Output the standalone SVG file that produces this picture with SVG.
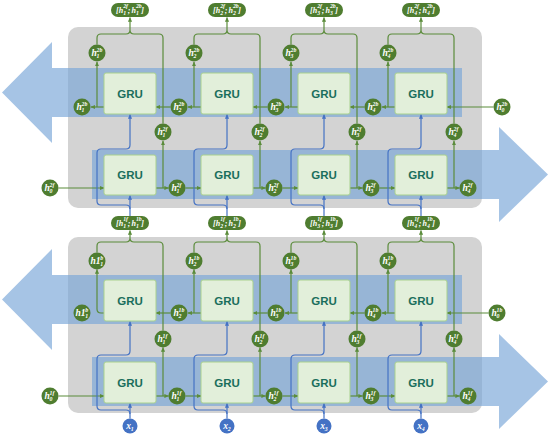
<svg xmlns="http://www.w3.org/2000/svg" width="554" height="434" viewBox="0 0 554 434">
<defs>
<marker id="ag" viewBox="0 0 6 6" refX="5.5" refY="3" markerWidth="4.5" markerHeight="4.5" markerUnits="userSpaceOnUse" orient="auto"><path d="M0,0.3L6,3L0,5.7z" fill="#5b8c3b"/></marker>
<marker id="ab" viewBox="0 0 6 6" refX="5.5" refY="3" markerWidth="4.5" markerHeight="4.5" markerUnits="userSpaceOnUse" orient="auto"><path d="M0,0.3L6,3L0,5.7z" fill="#4472c4"/></marker>
<style>
.bg{fill:#d3d3d3}
.ar{fill:#78a5d8;fill-opacity:.66}
.gru{fill:#e2efda;stroke:#a9d18e;stroke-width:1}
.gt{font-family:"Liberation Sans",Arial,sans-serif;font-weight:bold;font-size:11.5px;fill:#1a6e5c;text-anchor:middle}
.n{fill:#4f7d30}
.xn{fill:#4472c4}
.t{font-family:"Liberation Serif","Times New Roman",serif;font-style:italic;font-weight:bold;font-size:9.5px;fill:#fff}
.p{font-size:8px}
.s{font-size:5.8px}
.gl{fill:none;stroke:#5b8c3b;stroke-width:1.2}
.gl.a{marker-end:url(#ag)}
.bl{fill:none;stroke:#4472c4;stroke-width:1.2}
.bl.a{marker-end:url(#ab)}
</style>
</defs>
<g id="backgrounds">
<rect class="bg" x="68" y="27" width="414" height="181" rx="10"/>
<rect class="bg" x="68" y="237" width="414" height="176" rx="10"/>
<polygon class="ar" points="2,92.5 52,42 52,68 462,68 462,117 52,117 52,143"/>
<polygon class="ar" points="92,150 499,150 499,127 548,174.5 499,222 499,199 92,199"/>
<polygon class="ar" points="2,299.5 52,249 52,275 462,275 462,324 52,324 52,350"/>
<polygon class="ar" points="92,357 499,357 499,334 548,381.5 499,429 499,406 92,406"/>
</g>
<g id="connectors">
<path class="gl a" d="M104,107H91"/><path class="gl a" d="M97,107V62"/><path class="gl a" d="M170.5,107H156"/>
<path class="gl a" d="M201,107H188"/><path class="gl a" d="M194,107V62"/><path class="gl a" d="M267.5,107H253"/>
<path class="gl a" d="M298,107H285"/><path class="gl a" d="M291,107V62"/><path class="gl a" d="M364.5,107H350"/>
<path class="gl a" d="M395,107H382"/><path class="gl a" d="M388,107V62"/><path class="gl a" d="M493.5,107H447"/>
<path class="gl" d="M97,44.5V38Q97,34 101,34H126Q130,34 130,30Q130,34 134,34H159Q163,34 163,38V123.5"/><path class="gl a" d="M130,30V17.5"/>
<path class="gl" d="M194,44.5V38Q194,34 198,34H223Q227,34 227,30Q227,34 231,34H256Q260,34 260,38V123.5"/><path class="gl a" d="M227,30V17.5"/>
<path class="gl" d="M291,44.5V38Q291,34 295,34H320Q324,34 324,30Q324,34 328,34H353Q357,34 357,38V123.5"/><path class="gl a" d="M324,30V17.5"/>
<path class="gl" d="M388,44.5V38Q388,34 392,34H417Q421,34 421,30Q421,34 425,34H450Q454,34 454,38V123.5"/><path class="gl a" d="M421,30V17.5"/>
<path class="gl a" d="M58.5,188H104"/>
<path class="gl a" d="M156,188H168.5"/><path class="gl a" d="M163,188V141"/><path class="gl a" d="M185.5,188H201"/>
<path class="gl a" d="M253,188H265.5"/><path class="gl a" d="M260,188V141"/><path class="gl a" d="M282.5,188H298"/>
<path class="gl a" d="M350,188H362.5"/><path class="gl a" d="M357,188V141"/><path class="gl a" d="M379.5,188H395"/>
<path class="gl a" d="M447,188H459.5"/><path class="gl a" d="M454,188V141"/>
<path class="bl a" d="M130,216V195.5"/><path class="bl a" d="M130,209Q130,205 126,205H101Q97,205 97,201V153Q97,149 101,149H126Q130,149 130,145V114.5"/>
<path class="bl a" d="M227,216V195.5"/><path class="bl a" d="M227,209Q227,205 223,205H198Q194,205 194,201V153Q194,149 198,149H223Q227,149 227,145V114.5"/>
<path class="bl a" d="M324,216V195.5"/><path class="bl a" d="M324,209Q324,205 320,205H295Q291,205 291,201V153Q291,149 295,149H320Q324,149 324,145V114.5"/>
<path class="bl a" d="M421,216V195.5"/><path class="bl a" d="M421,209Q421,205 417,205H392Q388,205 388,201V153Q388,149 392,149H417Q421,149 421,145V114.5"/>
<path class="gl a" d="M104,313H101Q97,313 97,309V269.5"/><path class="gl a" d="M170.5,313H156"/>
<path class="gl a" d="M201,313H188"/><path class="gl a" d="M194,313V269.5"/><path class="gl a" d="M267.5,313H253"/>
<path class="gl a" d="M298,313H285"/><path class="gl a" d="M291,313V269.5"/><path class="gl a" d="M364.5,313H350"/>
<path class="gl a" d="M395,313H382"/><path class="gl a" d="M388,313V269.5"/><path class="gl a" d="M488.5,313H447"/>
<path class="gl" d="M97,252.5V246Q97,242 101,242H126Q130,242 130,238Q130,242 134,242H159Q163,242 163,246V330.5"/><path class="gl a" d="M130,238V230.5"/>
<path class="gl" d="M194,252.5V246Q194,242 198,242H223Q227,242 227,238Q227,242 231,242H256Q260,242 260,246V330.5"/><path class="gl a" d="M227,238V230.5"/>
<path class="gl" d="M291,252.5V246Q291,242 295,242H320Q324,242 324,238Q324,242 328,242H353Q357,242 357,246V330.5"/><path class="gl a" d="M324,238V230.5"/>
<path class="gl" d="M388,252.5V246Q388,242 392,242H417Q421,242 421,238Q421,242 425,242H450Q454,242 454,246V330.5"/><path class="gl a" d="M421,238V230.5"/>
<path class="gl a" d="M58.5,396H104"/>
<path class="gl a" d="M156,396H168.5"/><path class="gl a" d="M163,396V347.5"/><path class="gl a" d="M185.5,396H201"/>
<path class="gl a" d="M253,396H265.5"/><path class="gl a" d="M260,396V347.5"/><path class="gl a" d="M282.5,396H298"/>
<path class="gl a" d="M350,396H362.5"/><path class="gl a" d="M357,396V347.5"/><path class="gl a" d="M379.5,396H395"/>
<path class="gl a" d="M447,396H459.5"/><path class="gl a" d="M454,396V347.5"/>
<path class="bl a" d="M130,418.5V403.5"/><path class="bl a" d="M130,414Q130,410 126,410H101Q97,410 97,406V359Q97,355 101,355H126Q130,355 130,351V321.5"/>
<path class="bl a" d="M227,418.5V403.5"/><path class="bl a" d="M227,414Q227,410 223,410H198Q194,410 194,406V359Q194,355 198,355H223Q227,355 227,351V321.5"/>
<path class="bl a" d="M324,418.5V403.5"/><path class="bl a" d="M324,414Q324,410 320,410H295Q291,410 291,406V359Q291,355 295,355H320Q324,355 324,351V321.5"/>
<path class="bl a" d="M421,418.5V403.5"/><path class="bl a" d="M421,414Q421,410 417,410H392Q388,410 388,406V359Q388,355 392,355H417Q421,355 421,351V321.5"/>
</g>
<g id="gru-2b-1"><rect class="gru" x="104" y="73" width="52" height="41" rx="2"/><text class="gt" x="130" y="97.5">GRU</text></g>
<g id="gru-2b-2"><rect class="gru" x="201" y="73" width="52" height="41" rx="2"/><text class="gt" x="227" y="97.5">GRU</text></g>
<g id="gru-2b-3"><rect class="gru" x="298" y="73" width="52" height="41" rx="2"/><text class="gt" x="324" y="97.5">GRU</text></g>
<g id="gru-2b-4"><rect class="gru" x="395" y="73" width="52" height="41" rx="2"/><text class="gt" x="421" y="97.5">GRU</text></g>
<g id="gru-2f-1"><rect class="gru" x="104" y="155" width="52" height="40" rx="2"/><text class="gt" x="130" y="179">GRU</text></g>
<g id="gru-2f-2"><rect class="gru" x="201" y="155" width="52" height="40" rx="2"/><text class="gt" x="227" y="179">GRU</text></g>
<g id="gru-2f-3"><rect class="gru" x="298" y="155" width="52" height="40" rx="2"/><text class="gt" x="324" y="179">GRU</text></g>
<g id="gru-2f-4"><rect class="gru" x="395" y="155" width="52" height="40" rx="2"/><text class="gt" x="421" y="179">GRU</text></g>
<g id="gru-1b-1"><rect class="gru" x="104" y="280" width="52" height="41" rx="2"/><text class="gt" x="130" y="304.5">GRU</text></g>
<g id="gru-1b-2"><rect class="gru" x="201" y="280" width="52" height="41" rx="2"/><text class="gt" x="227" y="304.5">GRU</text></g>
<g id="gru-1b-3"><rect class="gru" x="298" y="280" width="52" height="41" rx="2"/><text class="gt" x="324" y="304.5">GRU</text></g>
<g id="gru-1b-4"><rect class="gru" x="395" y="280" width="52" height="41" rx="2"/><text class="gt" x="421" y="304.5">GRU</text></g>
<g id="gru-1f-1"><rect class="gru" x="104" y="362" width="52" height="41" rx="2"/><text class="gt" x="130" y="386.5">GRU</text></g>
<g id="gru-1f-2"><rect class="gru" x="201" y="362" width="52" height="41" rx="2"/><text class="gt" x="227" y="386.5">GRU</text></g>
<g id="gru-1f-3"><rect class="gru" x="298" y="362" width="52" height="41" rx="2"/><text class="gt" x="324" y="386.5">GRU</text></g>
<g id="gru-1f-4"><rect class="gru" x="395" y="362" width="52" height="41" rx="2"/><text class="gt" x="421" y="386.5">GRU</text></g>
<g id="out2-1"><rect class="n" x="111" y="3" width="38" height="14" rx="7"/><text class="t p" x="116" y="13">[h<tspan class="s" x="123.2" y="8.3">2f</tspan><tspan class="s" x="123.2" y="15">1</tspan><tspan x="127.8" y="13">;</tspan><tspan x="131.4" y="13">h</tspan><tspan class="s" x="135.9" y="8.3">2b</tspan><tspan class="s" x="135.9" y="15">1</tspan><tspan x="141.3" y="13">]</tspan></text></g>
<g id="out2-2"><rect class="n" x="208" y="3" width="38" height="14" rx="7"/><text class="t p" x="213" y="13">[h<tspan class="s" x="220.2" y="8.3">2f</tspan><tspan class="s" x="220.2" y="15">2</tspan><tspan x="224.8" y="13">;</tspan><tspan x="228.4" y="13">h</tspan><tspan class="s" x="232.9" y="8.3">2b</tspan><tspan class="s" x="232.9" y="15">2</tspan><tspan x="238.3" y="13">]</tspan></text></g>
<g id="out2-3"><rect class="n" x="305" y="3" width="38" height="14" rx="7"/><text class="t p" x="310" y="13">[h<tspan class="s" x="317.2" y="8.3">2f</tspan><tspan class="s" x="317.2" y="15">3</tspan><tspan x="321.8" y="13">;</tspan><tspan x="325.4" y="13">h</tspan><tspan class="s" x="329.9" y="8.3">2b</tspan><tspan class="s" x="329.9" y="15">3</tspan><tspan x="335.3" y="13">]</tspan></text></g>
<g id="out2-4"><rect class="n" x="402" y="3" width="38" height="14" rx="7"/><text class="t p" x="407" y="13">[h<tspan class="s" x="414.2" y="8.3">2f</tspan><tspan class="s" x="414.2" y="15">4</tspan><tspan x="418.8" y="13">;</tspan><tspan x="422.4" y="13">h</tspan><tspan class="s" x="426.9" y="8.3">2b</tspan><tspan class="s" x="426.9" y="15">4</tspan><tspan x="432.3" y="13">]</tspan></text></g>
<g id="out1-1"><rect class="n" x="111" y="216" width="38" height="14" rx="7"/><text class="t p" x="116" y="226">[h<tspan class="s" x="123.2" y="221.3">1f</tspan><tspan class="s" x="123.2" y="228">1</tspan><tspan x="127.8" y="226">;</tspan><tspan x="131.4" y="226">h</tspan><tspan class="s" x="135.9" y="221.3">1b</tspan><tspan class="s" x="135.9" y="228">1</tspan><tspan x="141.3" y="226">]</tspan></text></g>
<g id="out1-2"><rect class="n" x="208" y="216" width="38" height="14" rx="7"/><text class="t p" x="213" y="226">[h<tspan class="s" x="220.2" y="221.3">1f</tspan><tspan class="s" x="220.2" y="228">2</tspan><tspan x="224.8" y="226">;</tspan><tspan x="228.4" y="226">h</tspan><tspan class="s" x="232.9" y="221.3">1b</tspan><tspan class="s" x="232.9" y="228">2</tspan><tspan x="238.3" y="226">]</tspan></text></g>
<g id="out1-3"><rect class="n" x="305" y="216" width="38" height="14" rx="7"/><text class="t p" x="310" y="226">[h<tspan class="s" x="317.2" y="221.3">1f</tspan><tspan class="s" x="317.2" y="228">3</tspan><tspan x="321.8" y="226">;</tspan><tspan x="325.4" y="226">h</tspan><tspan class="s" x="329.9" y="221.3">1b</tspan><tspan class="s" x="329.9" y="228">3</tspan><tspan x="335.3" y="226">]</tspan></text></g>
<g id="out1-4"><rect class="n" x="402" y="216" width="38" height="14" rx="7"/><text class="t p" x="407" y="226">[h<tspan class="s" x="414.2" y="221.3">1f</tspan><tspan class="s" x="414.2" y="228">4</tspan><tspan x="418.8" y="226">;</tspan><tspan x="422.4" y="226">h</tspan><tspan class="s" x="426.9" y="221.3">1b</tspan><tspan class="s" x="426.9" y="228">4</tspan><tspan x="432.3" y="226">]</tspan></text></g>
<g id="h2b-up-1"><circle class="n" cx="97" cy="53" r="8.5"/><text class="t" x="91.5" y="56">h<tspan class="s" x="96.5" y="52.2">2b</tspan><tspan class="s" x="96.5" y="58">1</tspan></text></g>
<g id="h2b-up-2"><circle class="n" cx="194" cy="53" r="8.5"/><text class="t" x="188.5" y="56">h<tspan class="s" x="193.5" y="52.2">2b</tspan><tspan class="s" x="193.5" y="58">2</tspan></text></g>
<g id="h2b-up-3"><circle class="n" cx="291" cy="53" r="8.5"/><text class="t" x="285.5" y="56">h<tspan class="s" x="290.5" y="52.2">2b</tspan><tspan class="s" x="290.5" y="58">3</tspan></text></g>
<g id="h2b-up-4"><circle class="n" cx="388" cy="53" r="8.5"/><text class="t" x="382.5" y="56">h<tspan class="s" x="387.5" y="52.2">2b</tspan><tspan class="s" x="387.5" y="58">4</tspan></text></g>
<g id="h2b-1"><circle class="n" cx="82" cy="107" r="8.5"/><text class="t" x="76.5" y="110">h<tspan class="s" x="81.5" y="106.2">2b</tspan><tspan class="s" x="81.5" y="112">1</tspan></text></g>
<g id="h2b-2"><circle class="n" cx="179" cy="107" r="8.5"/><text class="t" x="173.5" y="110">h<tspan class="s" x="178.5" y="106.2">2b</tspan><tspan class="s" x="178.5" y="112">2</tspan></text></g>
<g id="h2b-3"><circle class="n" cx="276" cy="107" r="8.5"/><text class="t" x="270.5" y="110">h<tspan class="s" x="275.5" y="106.2">2b</tspan><tspan class="s" x="275.5" y="112">3</tspan></text></g>
<g id="h2b-4"><circle class="n" cx="373" cy="107" r="8.5"/><text class="t" x="367.5" y="110">h<tspan class="s" x="372.5" y="106.2">2b</tspan><tspan class="s" x="372.5" y="112">4</tspan></text></g>
<g id="h2b-0"><circle class="n" cx="502" cy="107" r="8.5"/><text class="t" x="496.5" y="110">h<tspan class="s" x="501.5" y="106.2">2b</tspan><tspan class="s" x="501.5" y="112">0</tspan></text></g>
<g id="h2f-up-1"><circle class="n" cx="163" cy="132" r="8.5"/><text class="t" x="157.5" y="135">h<tspan class="s" x="162.5" y="131.2">2f</tspan><tspan class="s" x="162.5" y="137">1</tspan></text></g>
<g id="h2f-up-2"><circle class="n" cx="260" cy="132" r="8.5"/><text class="t" x="254.5" y="135">h<tspan class="s" x="259.5" y="131.2">2f</tspan><tspan class="s" x="259.5" y="137">2</tspan></text></g>
<g id="h2f-up-3"><circle class="n" cx="357" cy="132" r="8.5"/><text class="t" x="351.5" y="135">h<tspan class="s" x="356.5" y="131.2">2f</tspan><tspan class="s" x="356.5" y="137">3</tspan></text></g>
<g id="h2f-up-4"><circle class="n" cx="454" cy="132" r="8.5"/><text class="t" x="448.5" y="135">h<tspan class="s" x="453.5" y="131.2">2f</tspan><tspan class="s" x="453.5" y="137">4</tspan></text></g>
<g id="h2f-0"><circle class="n" cx="50" cy="188" r="8.5"/><text class="t" x="44.5" y="191">h<tspan class="s" x="49.5" y="187.2">2f</tspan><tspan class="s" x="49.5" y="193">0</tspan></text></g>
<g id="h2f-1"><circle class="n" cx="177" cy="188" r="8.5"/><text class="t" x="171.5" y="191">h<tspan class="s" x="176.5" y="187.2">2f</tspan><tspan class="s" x="176.5" y="193">1</tspan></text></g>
<g id="h2f-2"><circle class="n" cx="274" cy="188" r="8.5"/><text class="t" x="268.5" y="191">h<tspan class="s" x="273.5" y="187.2">2f</tspan><tspan class="s" x="273.5" y="193">2</tspan></text></g>
<g id="h2f-3"><circle class="n" cx="371" cy="188" r="8.5"/><text class="t" x="365.5" y="191">h<tspan class="s" x="370.5" y="187.2">2f</tspan><tspan class="s" x="370.5" y="193">3</tspan></text></g>
<g id="h2f-4"><circle class="n" cx="468" cy="188" r="8.5"/><text class="t" x="462.5" y="191">h<tspan class="s" x="467.5" y="187.2">2f</tspan><tspan class="s" x="467.5" y="193">4</tspan></text></g>
<g id="h1b-up-1"><circle class="n" cx="97" cy="261" r="8.5"/><text class="t" x="90.5" y="264">h1<tspan class="s" x="100.3" y="260.2">b</tspan><tspan class="s" x="100.3" y="266">1</tspan></text></g>
<g id="h1b-up-2"><circle class="n" cx="194" cy="261" r="8.5"/><text class="t" x="188.5" y="264">h<tspan class="s" x="193.5" y="260.2">1b</tspan><tspan class="s" x="193.5" y="266">2</tspan></text></g>
<g id="h1b-up-3"><circle class="n" cx="291" cy="261" r="8.5"/><text class="t" x="285.5" y="264">h<tspan class="s" x="290.5" y="260.2">1b</tspan><tspan class="s" x="290.5" y="266">3</tspan></text></g>
<g id="h1b-up-4"><circle class="n" cx="388" cy="261" r="8.5"/><text class="t" x="382.5" y="264">h<tspan class="s" x="387.5" y="260.2">1b</tspan><tspan class="s" x="387.5" y="266">4</tspan></text></g>
<g id="h1b-1"><circle class="n" cx="82" cy="313" r="8.5"/><text class="t" x="75.5" y="316">h1<tspan class="s" x="85.3" y="312.2">b</tspan><tspan class="s" x="85.3" y="318">1</tspan></text></g>
<g id="h1b-2"><circle class="n" cx="179" cy="313" r="8.5"/><text class="t" x="173.5" y="316">h<tspan class="s" x="178.5" y="312.2">1b</tspan><tspan class="s" x="178.5" y="318">2</tspan></text></g>
<g id="h1b-3"><circle class="n" cx="276" cy="313" r="8.5"/><text class="t" x="270.5" y="316">h<tspan class="s" x="275.5" y="312.2">1b</tspan><tspan class="s" x="275.5" y="318">3</tspan></text></g>
<g id="h1b-4"><circle class="n" cx="373" cy="313" r="8.5"/><text class="t" x="367.5" y="316">h<tspan class="s" x="372.5" y="312.2">1b</tspan><tspan class="s" x="372.5" y="318">4</tspan></text></g>
<g id="h1b-0"><circle class="n" cx="497" cy="313" r="8.5"/><text class="t" x="491.5" y="316">h<tspan class="s" x="496.5" y="312.2">1b</tspan><tspan class="s" x="496.5" y="318">0</tspan></text></g>
<g id="h1f-up-1"><circle class="n" cx="163" cy="339" r="8.5"/><text class="t" x="157.5" y="342">h<tspan class="s" x="162.5" y="338.2">1f</tspan><tspan class="s" x="162.5" y="344">1</tspan></text></g>
<g id="h1f-up-2"><circle class="n" cx="260" cy="339" r="8.5"/><text class="t" x="254.5" y="342">h<tspan class="s" x="259.5" y="338.2">1f</tspan><tspan class="s" x="259.5" y="344">2</tspan></text></g>
<g id="h1f-up-3"><circle class="n" cx="357" cy="339" r="8.5"/><text class="t" x="351.5" y="342">h<tspan class="s" x="356.5" y="338.2">1f</tspan><tspan class="s" x="356.5" y="344">3</tspan></text></g>
<g id="h1f-up-4"><circle class="n" cx="454" cy="339" r="8.5"/><text class="t" x="448.5" y="342">h<tspan class="s" x="453.5" y="338.2">1f</tspan><tspan class="s" x="453.5" y="344">4</tspan></text></g>
<g id="h1f-0"><circle class="n" cx="50" cy="396" r="8.5"/><text class="t" x="44.5" y="399">h<tspan class="s" x="49.5" y="395.2">1f</tspan><tspan class="s" x="49.5" y="401">0</tspan></text></g>
<g id="h1f-1"><circle class="n" cx="177" cy="396" r="8.5"/><text class="t" x="171.5" y="399">h<tspan class="s" x="176.5" y="395.2">1f</tspan><tspan class="s" x="176.5" y="401">1</tspan></text></g>
<g id="h1f-2"><circle class="n" cx="274" cy="396" r="8.5"/><text class="t" x="268.5" y="399">h<tspan class="s" x="273.5" y="395.2">1f</tspan><tspan class="s" x="273.5" y="401">2</tspan></text></g>
<g id="h1f-3"><circle class="n" cx="371" cy="396" r="8.5"/><text class="t" x="365.5" y="399">h<tspan class="s" x="370.5" y="395.2">1f</tspan><tspan class="s" x="370.5" y="401">3</tspan></text></g>
<g id="h1f-4"><circle class="n" cx="468" cy="396" r="8.5"/><text class="t" x="462.5" y="399">h<tspan class="s" x="467.5" y="395.2">1f</tspan><tspan class="s" x="467.5" y="401">4</tspan></text></g>
<g id="x1"><circle class="xn" cx="130" cy="426" r="7.5"/><text class="t" x="126.3" y="428.5">x<tspan class="s" x="130.8" y="431">1</tspan></text></g>
<g id="x2"><circle class="xn" cx="227" cy="426" r="7.5"/><text class="t" x="223.3" y="428.5">x<tspan class="s" x="227.8" y="431">2</tspan></text></g>
<g id="x3"><circle class="xn" cx="324" cy="426" r="7.5"/><text class="t" x="320.3" y="428.5">x<tspan class="s" x="324.8" y="431">3</tspan></text></g>
<g id="x4"><circle class="xn" cx="421" cy="426" r="7.5"/><text class="t" x="417.3" y="428.5">x<tspan class="s" x="421.8" y="431">4</tspan></text></g>
</svg>
